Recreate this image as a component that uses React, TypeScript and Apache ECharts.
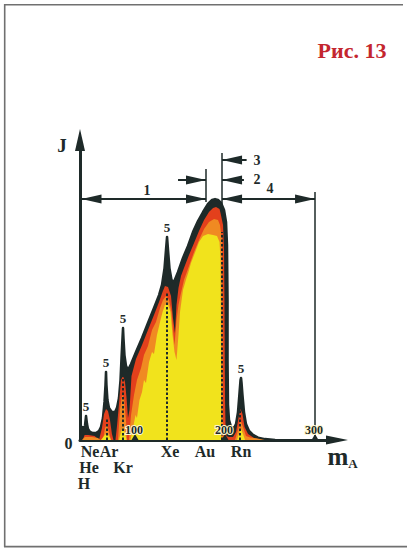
import React, { useEffect, useRef } from "react";
import * as echarts from "echarts";

// ---- axis ranges (mass number m_A, intensity J in arbitrary units) ----
const X_MIN = 38.9;
const X_MAX = 324.4;
const Y_MAX = 100;

// ---- outer (dark) envelope of the mass spectrum: [m_A, J] ----
const outline: number[][] = [
  [39.4, 0], [41.1, 2.7], [42.2, 4.3], [43.3, 2.3], [44.4, 4.7], [45.6, 8.0], [46.7, 5.3], [47.8, 3.7],
  [50, 2.7], [53.3, 2.3], [56.7, 2.3], [60, 3.0], [62.2, 4.3], [64.4, 7.3], [66.1, 12.7], [67.2, 18.3],
  [67.8, 22.7], [68.3, 18.3], [69.4, 13.3], [71.1, 10.7], [74.4, 9.3], [77.8, 9.3], [80, 10.7], [82.2, 14.0],
  [83.9, 20.0], [85, 27.3], [86.1, 34.0], [86.7, 37.3], [87.2, 34.0], [88.3, 28.3], [90, 24.7], [92.2, 23.3],
  [95.6, 25.3], [101.1, 29.3], [107.8, 34.0], [114.4, 39.0], [121.1, 44.0], [126.7, 48.3], [130, 51.7],
  [132.8, 57.3], [134.4, 63.3], [135.6, 67.7], [136.7, 63.3], [138.3, 57.3], [140.6, 53.3], [143.3, 52.7],
  [147.8, 56.0], [153.3, 60.7], [158.9, 64.7], [164.4, 69.3], [170, 73.0], [175.6, 76.0], [181.1, 78.7],
  [185.6, 80.0], [188.9, 80.3], [192.2, 80.0], [195.6, 79.0], [198.9, 76.7], [201.1, 72.7], [202.2, 65.0],
  [202.8, 46.7], [202.8, 26.7], [203.3, 11.7], [204.4, 6.7], [206.7, 4.3], [210, 4.0], [212.2, 5.3],
  [214.4, 9.3], [216.1, 15.7], [217.2, 20.0], [217.8, 20.7], [218.3, 19.3], [219.4, 15.0], [221.1, 9.3],
  [223.3, 5.3], [226.7, 3.0], [231.1, 1.7], [236.7, 0.8], [244.4, 0.3], [255.6, 0]
];

// ---- inner red layer ----
const redLayer: number[][] = [
  [42, 0], [44, 1.7], [48, 1.7], [55, 1.3], [59, 0.3], [60, 0], [63.3, 4], [65.6, 8.7], [67.8, 10.3],
  [70, 9.7], [72.2, 6.7], [74.4, 2], [76.1, 0], [78.3, 0], [80, 4.7], [82.2, 12], [84.4, 20], [86.7, 21.3],
  [88.9, 19.3], [90.6, 14], [92.2, 7.3], [93.9, 10], [96.1, 21.3], [101.1, 27], [107.8, 31.7], [114.4, 36.7],
  [121.1, 41.7], [126.7, 46], [130.6, 49.3], [133.3, 51.3], [136.7, 51], [140, 48], [142.2, 40.7],
  [144.4, 35.7], [146.1, 45], [148.3, 50.7], [151.1, 54.7], [154.4, 57.3], [160, 61.7], [165.6, 65.7],
  [171.1, 69.7], [176.7, 73.3], [182.2, 76], [186.7, 77.3], [190, 77.7], [193.9, 77], [195, 75.7],
  [197.8, 71.7], [198.9, 63.3], [199.4, 46.7], [200, 13.3], [200.6, 5], [201.7, 1.3], [204.4, 1], [208.9, 1],
  [212.2, 2.7], [215, 7.3], [217.2, 10.3], [219.4, 8.7], [221.7, 4.3], [225.6, 2], [232.2, 0.7], [241.1, 0]
];

// ---- orange flame layer ----
const orangeLayer: number[][] = [
  [41.1, 0], [44.4, 1], [52.2, 1], [58.9, 0.7], [61.5, 0], [64.4, 0], [66.7, 4], [68.9, 5], [71.1, 2.7],
  [73.3, 0], [81.1, 0], [83.3, 10], [85.6, 15], [87.8, 14], [90, 6.7], [91.1, 0], [93.3, 0], [95.6, 8.3],
  [98.9, 15], [102.2, 20], [106.7, 24], [110, 28.3], [114.4, 31.3], [118.9, 36.7], [123.3, 39.3],
  [127.8, 44], [131.1, 46.7], [134.4, 48], [137.8, 46.7], [140.6, 42.7], [142.2, 36.7], [143.9, 31.7],
  [146.1, 40], [148.3, 45], [150.6, 48.3], [154.4, 53.3], [160, 58], [165.6, 62.7], [171.1, 66.7],
  [176.7, 70.3], [182.2, 72.7], [187.8, 73.7], [192.2, 73.3], [194.4, 71.7], [196.7, 66.7], [197.2, 46.7],
  [197.8, 6.7], [198.3, 0], [211.1, 0], [214.4, 3.3], [217.2, 6.7], [220, 4.3], [223.3, 1.3], [228, 0.8],
  [236, 0.5], [244, 0]
];

// ---- yellow core layer ----
const yellowLayer: number[][] = [
  [62.2, 0], [65.6, 1.3], [68.9, 2.3], [71.7, 1], [73.3, 0], [82.2, 0], [84.4, 2.7], [86.7, 4.3], [88.9, 2.3],
  [90.6, 0], [95, 0], [97.8, 4], [100.6, 8.3], [102.2, 7.3], [105, 13.3], [107.8, 16], [110, 20], [112.2, 19],
  [115.6, 26], [118.9, 29.3], [121.1, 28.7], [124.4, 35], [127.8, 39.3], [130.6, 42.7], [133.3, 45],
  [136.7, 45.3], [139.4, 42.7], [141.7, 35], [143.9, 29.3], [146.1, 26.7], [148.3, 35], [150, 42.7],
  [153.3, 50], [156.7, 53.5], [159.4, 56], [162.2, 59], [166.7, 62.5], [171.1, 66], [175.6, 68], [181.1, 68.7],
  [186.7, 68.3], [191.1, 68], [193.9, 66], [195, 60], [195.6, 20], [195.6, 0], [213.3, 0], [216.1, 2.7],
  [217.8, 3.7], [220, 2], [222.2, 0]
];

// ---- peaks marked "5" ----
const peaks: number[][] = [[45.6, 8.0], [67.8, 22.7], [86.7, 37.3], [135.6, 67.7], [217.8, 20.7]];
const peakLabel = "5";

// ---- dotted drop lines [m_A, top J] (Ar, Kr, Xe, Au, Rn) ----
const dottedLines: number[][] = [[68.9, 7.3], [86.7, 22.3], [135.6, 49], [196.7, 69.3], [216.7, 10]];

// ---- axis ticks ----
const tickValues = [100, 200, 300];

// ---- element labels under the axis ----
const elementNames = ["Ne", "Ar", "He", "Kr", "H", "Xe", "Au", "Rn"];
const elementPos = [50, 71.1, 48.9, 86.7, 43.3, 138.9, 177.8, 217.8];
const elementRow = [0, 0, 1, 1, 2, 0, 0, 0];

// ---- dimension arrows: [from m_A, to m_A, J, head at start, head at end] ----
const dimArrows: number[][] = [
  [40.6, 178.9, 80.3, 1, 1],
  [147.8, 178.9, 86.7, 0, 1],
  [221, 196.7, 86.7, 0, 1],
  [224, 196.7, 93.3, 0, 1],
  [196.7, 300, 80.3, 1, 1]
];
const dimNames = ["1", "2", "3", "4"];
const dimNamePos: number[][] = [[113.3, 83.3], [235.6, 87], [235.6, 93.3], [250, 83.7]];

// ---- extension lines: [m_A, J from, J to] ----
const extLines: number[][] = [[178.9, 90.3, 79.3], [196.7, 95.7, 78.3], [300, 82.7, 0]];

const DARK = "#1e2a29";
const SERIF = '"Liberation Serif", "DejaVu Serif", serif';

export default function App() {
  const ref = useRef<HTMLDivElement>(null);

  useEffect(() => {
    const chart = echarts.init(ref.current!, null, { renderer: "svg" });

    const layer = (data: number[][], color: string, z: number, lineW: number) => ({
      type: "line",
      data,
      z,
      silent: true,
      symbol: "none",
      showSymbol: false,
      clip: false,
      lineStyle: { color, width: lineW, join: "round" },
      areaStyle: { color, opacity: 1 },
      itemStyle: { color }
    });

    const labelScatter = (data: any[], label: any, z = 10) => ({
      type: "scatter",
      data,
      z,
      silent: true,
      clip: false,
      symbolSize: 0,
      itemStyle: { color: DARK, opacity: 1 },
      label: {
        show: true,
        color: DARK,
        opacity: 1,
        fontFamily: SERIF,
        fontWeight: "bold",
        ...label
      }
    });

    const option: any = {
      animation: false,
      backgroundColor: "#ffffff",
      grid: { left: 80, right: 70, top: 140, bottom: 108, containLabel: false },
      xAxis: {
        type: "value",
        min: X_MIN,
        max: X_MAX,
        splitLine: { show: false },
        axisTick: { show: false },
        axisLabel: { show: false },
        axisLine: {
          show: true,
          onZero: true,
          symbol: ["none", "triangle"],
          symbolSize: [9, 22],
          lineStyle: { color: DARK, width: 3 }
        }
      },
      yAxis: {
        type: "value",
        min: 0,
        max: Y_MAX,
        splitLine: { show: false },
        axisTick: { show: false },
        axisLabel: { show: false },
        axisLine: {
          show: true,
          symbol: ["none", "triangle"],
          symbolSize: [10, 22],
          lineStyle: { color: DARK, width: 3 }
        }
      },
      graphic: [
        { type: "line", shape: { x1: 4, y1: 4.7, x2: 403, y2: 4.7 }, style: { stroke: "#707070", lineWidth: 1.6 } },
        { type: "line", shape: { x1: 4.7, y1: 4, x2: 4.7, y2: 547 }, style: { stroke: "#707070", lineWidth: 1.6 } },
        { type: "line", shape: { x1: 4, y1: 546.6, x2: 407, y2: 546.6 }, style: { stroke: "#707070", lineWidth: 1.6 } },
        {
          type: "text", x: 352, y: 50,
          style: { text: "Рис. 13", fill: "#c4262e", font: `bold 22px ${SERIF}`, textAlign: "center", textVerticalAlign: "middle" }
        },
        {
          type: "text", x: 62, y: 145,
          style: { text: "J", fill: DARK, font: `bold 19px ${SERIF}`, textAlign: "center", textVerticalAlign: "middle" }
        },
        {
          type: "text", x: 68.5, y: 443,
          style: { text: "0", fill: DARK, font: `bold 16px ${SERIF}`, textAlign: "center", textVerticalAlign: "middle" }
        },
        {
          type: "text", x: 338, y: 456,
          style: { text: "m", fill: DARK, font: `bold 25px ${SERIF}`, textAlign: "center", textVerticalAlign: "middle" }
        },
        {
          type: "text", x: 353, y: 463,
          style: { text: "A", fill: DARK, font: `bold 13px ${SERIF}`, textAlign: "center", textVerticalAlign: "middle" }
        }
      ],
      series: [
        layer(outline, DARK, 1, 2.5),
        layer(redLayer, "#e3401c", 2, 0),
        layer(orangeLayer, "#f08a22", 3, 0),
        layer(yellowLayer, "#f1e31c", 4, 0),
        {
          type: "line",
          data: [],
          z: 6,
          color: DARK,
          markLine: {
            silent: true,
            animation: false,
            symbol: ["none", "none"],
            label: { show: false },
            emphasis: { disabled: true },
            lineStyle: { color: DARK, width: 2, type: [2.5, 2] },
            data: dottedLines.map(([m, j]) => [{ coord: [m, 0] }, { coord: [m, j] }])
          }
        },
        {
          type: "line",
          data: [],
          z: 7,
          color: DARK,
          markLine: {
            silent: true,
            animation: false,
            symbol: ["none", "none"],
            label: { show: false },
            emphasis: { disabled: true },
            lineStyle: { color: DARK, width: 1.5, type: "solid" },
            data: extLines.map(([m, a, b]) => [{ coord: [m, a] }, { coord: [m, b] }])
          }
        },
        {
          type: "line",
          data: [],
          z: 8,
          color: DARK,
          markLine: {
            silent: true,
            animation: false,
            label: { show: false },
            emphasis: { disabled: true },
            itemStyle: { color: DARK },
            lineStyle: { color: DARK, width: 2, type: "solid" },
            data: dimArrows.map(([a, b, j, sh, eh]) => [
              { coord: [a, j], symbol: sh ? "triangle" : "none", symbolSize: [9, 20], symbolOffset: [0, 10] },
              { coord: [b, j], symbol: eh ? "triangle" : "none", symbolSize: [9, 20], symbolOffset: [0, 10] }
            ])
          }
        },
        {
          type: "scatter",
          data: tickValues.map((v) => [v, 0]),
          z: 9,
          silent: true,
          clip: false,
          symbol: "triangle",
          symbolSize: [7, 6],
          symbolOffset: [0, -3],
          itemStyle: { color: DARK, opacity: 1 }
        },
        labelScatter(
          tickValues.map((v) => [v, 0]),
          {
            position: "inside",
            offset: [-1, -10],
            fontSize: 12,
            textBorderColor: "#fff8d0",
            textBorderWidth: 2,
            formatter: (p: any) => String(p.value[0])
          }
        ),
        labelScatter(peaks, { position: "top", distance: 3, fontSize: 13, formatter: peakLabel }),
        labelScatter(
          elementNames.map((n, i) => ({
            value: [elementPos[i], 0],
            name: n,
            label: { offset: [0, elementRow[i] * 16] }
          })),
          { position: "bottom", distance: 4, fontSize: 16, lineHeight: 15, formatter: "{b}" }
        ),
        labelScatter(
          dimNames.map((n, i) => ({ value: dimNamePos[i], name: n })),
          { position: "inside", fontSize: 14, formatter: "{b}" }
        )
      ]
    };

    chart.setOption(option);
    return () => chart.dispose();
  }, []);

  return (
    <div
      ref={ref}
      style={{ position: "absolute", left: 0, top: 0, width: 407, height: 548, background: "#fff" }}
    />
  );
}
